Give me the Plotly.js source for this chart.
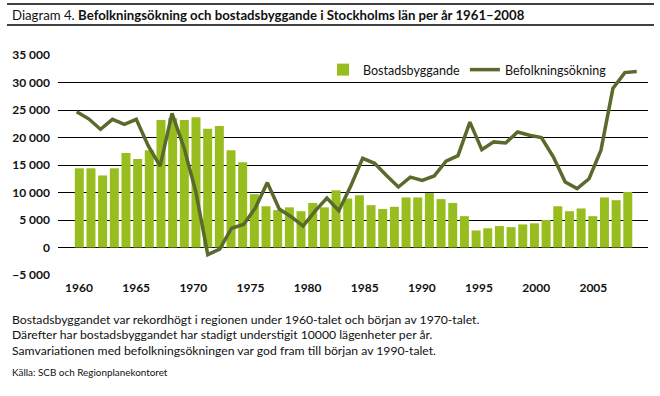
<!DOCTYPE html>
<html>
<head>
<meta charset="utf-8">
<script src="https://cdn.plot.ly/plotly-3.0.1.min.js"></script>
<style>
html,body{margin:0;padding:0;background:#fff;}
#chart{width:660px;height:396px;}
</style>
</head>
<body>
<div id="chart"></div>
<script>
// ---- data ----
const years = [1961,1962,1963,1964,1965,1966,1967,1968,1969,1970,
               1971,1972,1973,1974,1975,1976,1977,1978,1979,1980,
               1981,1982,1983,1984,1985,1986,1987,1988,1989,1990,
               1991,1992,1993,1994,1995,1996,1997,1998,1999,2000,
               2001,2002,2003,2004,2005,2006,2007,2008];
const bostadsbyggande = [14400,14400,13100,14400,17200,16100,17700,23200,23500,23200,
                         23700,21600,22100,17700,15500,9700,7500,6800,7300,6600,
                         8100,7300,10400,8900,9500,7700,7000,7400,9100,9100,
                         9900,8800,8100,5700,3100,3500,3900,3700,4200,4400,
                         5000,7500,6600,7100,5700,9100,8600,10100];
const befolkningsokning = [24700,23400,21500,23300,22400,23300,18500,14800,24400,18200,
                           10100,-1300,-300,3500,4200,7200,11800,7000,5600,3900,
                           6600,9000,6700,11200,16200,15300,13100,11000,12800,12200,
                           13000,15700,16700,22800,17800,19200,19000,21000,20400,20000,
                           16500,11900,10700,12500,17700,28900,31800,32000];
const seriesNames = ['Bostadsbyggande','Befolkningsökning'];
const axisLabelStart = 1960;
const titlePrefix = 'Diagram 4. ';
const titleMain = 'Befolkningsökning och bostadsbyggande i Stockholms län per år 1961–2008';
const noteLines = [
  'Bostadsbyggandet var rekordhögt i regionen under 1960-talet och början av 1970-talet.',
  'Därefter har bostadsbyggandet har stadigt understigit 10000 lägenheter per år.',
  'Samvariationen med befolkningsökningen var god fram till början av 1990-talet.'
];
const source = 'Källa: SCB och Regionplanekontoret';

// ---- layout helpers (pixel -> paper) ----
const L = 58, R = 648, T = 55, B = 275;
const px = x => (x - L) / (R - L);
const py = y => (B - y) / (B - T);
const FONT = 'Lato, "Open Sans", sans-serif';

const barColor = '#97be1e';
const lineColor = '#5a6a2c';

const traces = [
  {type:'bar', name:seriesNames[0], x:years, y:bostadsbyggande, xaxis:'x', yaxis:'y',
   marker:{color:barColor}, width:0.77, hoverinfo:'skip'},
  {type:'scatter', mode:'lines', name:seriesNames[1], x:years, y:befolkningsokning,
   xaxis:'x2', yaxis:'y', line:{color:lineColor, width:3.5}, hoverinfo:'skip'},
  // carrier for the year-label axis (draws nothing)
  {type:'scatter', mode:'lines', x:[axisLabelStart], y:[null], xaxis:'x3', yaxis:'y',
   showlegend:false, hoverinfo:'skip'}
];

const annotations = [
  {xref:'paper', yref:'paper', x:px(10), y:py(14.5), xanchor:'left', yanchor:'middle', showarrow:false,
   text: titlePrefix + '<b>' + titleMain + '</b>', font:{family:FONT, size:13.2, color:'#111'}},
];
const noteY = [319, 334.5, 350];
noteLines.forEach((t,i) => annotations.push({xref:'paper', yref:'paper', x:px(10), y:py(noteY[i]),
   xanchor:'left', yanchor:'middle', showarrow:false, text:t, font:{family:FONT, size:12.2, color:'#111'}}));
annotations.push({xref:'paper', yref:'paper', x:px(10), y:py(372), xanchor:'left', yanchor:'middle',
   showarrow:false, text:source, font:{family:FONT, size:9.9, color:'#111'}});

const shapes = [
  {type:'line', xref:'paper', yref:'paper', x0:px(7), x1:px(654), y0:py(4), y1:py(4), line:{color:'#000', width:1.3}},
  {type:'line', xref:'paper', yref:'paper', x0:px(7), x1:px(654), y0:py(25), y1:py(25), line:{color:'#000', width:1.3}}
];

const hidden = {showgrid:false, zeroline:false, showline:false, showticklabels:false, ticks:'', fixedrange:true};
const layout = {
  width:660, height:396,
  margin:{l:L, r:660-R, t:T, b:396-B, pad:0},
  paper_bgcolor:'#fff', plot_bgcolor:'#fff',
  separators:', ',
  showlegend:true,
  legend:{orientation:'h', x:px(323), xanchor:'left', y:py(70), yanchor:'middle',
          font:{family:FONT, size:12.5, color:'#111'}, bgcolor:'rgba(0,0,0,0)', itemwidth:30},
  xaxis: Object.assign({range:[1959.175, 2009.732]}, hidden),
  xaxis2: Object.assign({overlaying:'x', range:[1959.431, 2008.948]}, hidden),
  xaxis3: {overlaying:'x', anchor:'y', side:'bottom', range:[1958.163, 2009.782], tick0:axisLabelStart, dtick:5,
           showgrid:false, zeroline:false, showline:false, ticks:'', fixedrange:true, ticklabelstandoff:4,
           tickfont:{family:FONT, size:12, weight:700, color:'#111'}},
  yaxis:{range:[-5001, 35001], tick0:0, dtick:5000, tickformat:',d', gridcolor:'#000', gridwidth:1,
         zeroline:true, zerolinecolor:'#000', zerolinewidth:1, showline:false, ticks:'', fixedrange:true,
         ticklabelstandoff:7, tickfont:{family:FONT, size:12, weight:700, color:'#111'}},
  annotations, shapes
};
Plotly.newPlot('chart', traces, layout, {staticPlot:true, displayModeBar:false});
</script>
</body>
</html>
